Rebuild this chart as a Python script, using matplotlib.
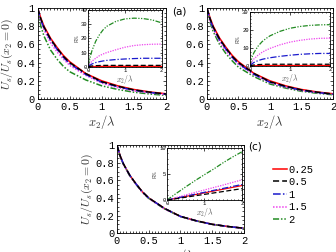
import matplotlib
matplotlib.use("Agg")
import matplotlib.pyplot as plt
from matplotlib.ticker import MultipleLocator

plt.rcParams['mathtext.fontset'] = 'cm'
plt.rcParams['font.family'] = ['Liberation Mono', 'DejaVu Sans Mono']

# curve values
x = [0, 0.05, 0.1, 0.2, 0.3, 0.4, 0.5, 0.75, 1.0, 1.25, 1.5, 1.75, 2.0]
labels = ['0.25', '0.5', '1', '1.5', '2']

# panel (a): U_s/U_s(x2=0)
a_main = {
    '0.25': [1.0, 0.89, 0.80, 0.67, 0.57, 0.48, 0.41, 0.28, 0.20, 0.145, 0.105, 0.078, 0.058],
    '0.5':  [1.0, 0.88, 0.79, 0.66, 0.56, 0.47, 0.40, 0.28, 0.19, 0.14, 0.10, 0.075, 0.055],
    '1':    [1.0, 0.87, 0.78, 0.65, 0.55, 0.46, 0.39, 0.27, 0.185, 0.135, 0.097, 0.072, 0.053],
    '1.5':  [1.0, 0.85, 0.76, 0.62, 0.52, 0.44, 0.37, 0.26, 0.175, 0.125, 0.09, 0.067, 0.05],
    '2':    [1.0, 0.80, 0.69, 0.54, 0.44, 0.36, 0.30, 0.21, 0.145, 0.105, 0.075, 0.055, 0.04],
}
a_inset = {
    '0.25': [0, 0.1, 0.15, 0.2, 0.25, 0.3, 0.3, 0.3, 0.3, 0.3, 0.3, 0.3, 0.3],
    '0.5':  [0, 0.4, 0.6, 0.8, 0.9, 1.0, 1.0, 1.0, 1.0, 1.0, 1.0, 1.0, 1.0],
    '1':    [0, 1.2, 2.0, 3.0, 3.6, 4.1, 4.5, 5.1, 5.5, 5.8, 6.0, 6.0, 6.0],
    '1.5':  [0, 2.5, 4.0, 6.0, 7.8, 9.0, 10.0, 12.0, 13.8, 15.0, 15.6, 15.9, 16.0],
    '2':    [0, 7.0, 11.5, 18.0, 22.5, 26.0, 28.5, 32.0, 33.8, 34.3, 34.0, 33.0, 31.0],
}

# panel (b)
b_main = {
    '0.25': [1.0, 0.89, 0.80, 0.67, 0.57, 0.48, 0.41, 0.28, 0.20, 0.145, 0.105, 0.078, 0.058],
    '0.5':  [1.0, 0.88, 0.79, 0.66, 0.56, 0.47, 0.40, 0.28, 0.19, 0.14, 0.10, 0.075, 0.055],
    '1':    [1.0, 0.87, 0.78, 0.65, 0.55, 0.46, 0.39, 0.27, 0.185, 0.135, 0.097, 0.072, 0.053],
    '1.5':  [1.0, 0.86, 0.77, 0.63, 0.53, 0.45, 0.38, 0.265, 0.18, 0.13, 0.093, 0.07, 0.052],
    '2':    [1.0, 0.84, 0.74, 0.60, 0.50, 0.42, 0.35, 0.245, 0.165, 0.12, 0.085, 0.063, 0.047],
}
b_inset = {
    '0.25': [0, 0.1, 0.15, 0.2, 0.25, 0.3, 0.3, 0.3, 0.3, 0.3, 0.3, 0.3, 0.3],
    '0.5':  [0, 0.4, 0.6, 0.8, 0.9, 1.0, 1.0, 1.0, 1.0, 1.0, 1.0, 1.0, 1.0],
    '1':    [0, 1.2, 2.0, 3.0, 3.7, 4.2, 4.6, 5.4, 6.0, 6.5, 6.8, 7.0, 7.0],
    '1.5':  [0, 2.5, 4.0, 6.0, 7.6, 8.8, 9.8, 11.8, 13.3, 14.3, 15.0, 15.4, 15.5],
    '2':    [0, 5.0, 7.5, 11.0, 13.5, 15.3, 16.8, 19.3, 21.0, 22.0, 22.6, 22.9, 23.0],
}

# panel (c)
c_main = {
    '0.25': [1.0, 0.88, 0.79, 0.66, 0.56, 0.47, 0.40, 0.28, 0.19, 0.14, 0.10, 0.075, 0.055],
    '0.5':  [1.0, 0.88, 0.79, 0.66, 0.56, 0.47, 0.40, 0.28, 0.19, 0.14, 0.10, 0.075, 0.055],
    '1':    [1.0, 0.88, 0.79, 0.66, 0.56, 0.47, 0.40, 0.28, 0.19, 0.14, 0.10, 0.075, 0.055],
    '1.5':  [1.0, 0.875, 0.785, 0.655, 0.555, 0.465, 0.395, 0.275, 0.188, 0.138, 0.099, 0.074, 0.054],
    '2':    [1.0, 0.875, 0.785, 0.655, 0.555, 0.465, 0.395, 0.275, 0.188, 0.138, 0.099, 0.074, 0.054],
}
c_inset = {
    '0.25': [0, 0.07, 0.14, 0.28, 0.42, 0.56, 0.7, 1.05, 1.4, 1.75, 2.1, 2.45, 2.8],
    '0.5':  [0, 0.06, 0.11, 0.22, 0.33, 0.44, 0.55, 0.83, 1.1, 1.38, 1.65, 1.93, 2.2],
    '1':    [0, 0.08, 0.15, 0.3, 0.45, 0.6, 0.75, 1.13, 1.5, 1.88, 2.25, 2.63, 3.0],
    '1.5':  [0, 0.1, 0.2, 0.4, 0.6, 0.8, 1.0, 1.48, 1.95, 2.43, 2.9, 3.4, 3.9],
    '2':    [0, 0.27, 0.53, 1.05, 1.55, 2.05, 2.55, 3.75, 4.9, 6.0, 7.2, 8.3, 9.3],
}

colors = {'0.25': 'red', '0.5': 'black', '1': '#1a1acc', '1.5': '#ee44ee', '2': '#228b22'}
styles = {'0.25': '-', '0.5': (0, (4, 2)), '1': (0, (5, 1.5, 1, 1.5)),
          '1.5': (0, (1, 1)), '2': (0, (4, 1.2, 1, 1.2, 1, 1.2))}
# red underneath, black on top (as in the original)
order = ['0.25', '2', '1.5', '1', '0.5']

fig = plt.figure(figsize=(3.36, 2.52), dpi=100)


def style_axes(ax, fs, xmin=0.1, ymin=None):
    ax.tick_params(which='both', direction='in', top=True, right=True,
                   labelsize=fs, width=0.5, pad=2)
    ax.tick_params(which='major', length=2.5)
    ax.tick_params(which='minor', length=1.2)
    for s in ax.spines.values():
        s.set_linewidth(0.6)
    ax.xaxis.set_minor_locator(MultipleLocator(xmin))
    if ymin is not None:
        ax.yaxis.set_minor_locator(MultipleLocator(ymin))


def main_panel(rect, data, ylabel=True):
    ax = fig.add_axes(rect)
    for k in order:
        ax.plot(x, data[k], color=colors[k], linestyle=styles[k], lw=1.1)
    ax.set_xlim(0, 2)
    ax.set_ylim(0, 1)
    ax.xaxis.set_major_locator(MultipleLocator(0.5))
    ax.yaxis.set_major_locator(MultipleLocator(0.2))
    style_axes(ax, 7.5, 0.05, 0.05)
    ax.xaxis.set_major_formatter(plt.FuncFormatter(lambda v, p: '%g' % v))
    ax.yaxis.set_major_formatter(plt.FuncFormatter(lambda v, p: '%g' % v))
    ax.set_xlabel(r'$x_2/\lambda$', fontsize=9, labelpad=1, color='#333333')
    if ylabel:
        ax.set_ylabel(r'$U_s/U_s(x_2=0)$', fontsize=8.5, labelpad=0.5, color='#333333')
    return ax


def inset(rect, data, ytop, ystep):
    ax = fig.add_axes(rect)
    for k in order:
        ax.plot(x, data[k], color=colors[k], linestyle=styles[k], lw=0.9)
    ax.set_xlim(0, 2)
    ax.set_ylim(0, ytop)
    ax.xaxis.set_major_locator(MultipleLocator(1))
    ax.yaxis.set_major_locator(MultipleLocator(ystep))
    style_axes(ax, 4, 0.1, ystep / 5)
    ax.tick_params(which='major', length=1.8, pad=1)
    ax.tick_params(which='minor', length=0.9)
    ax.set_xlabel(r'$x_2/\lambda$', fontsize=5.5, labelpad=0, color='#555555')
    ax.set_ylabel('R%', fontsize=4.5, labelpad=1, color='#555555')
    return ax


main_panel([0.112, 0.607, 0.382, 0.361], a_main)
inset([0.263, 0.735, 0.218, 0.225], a_inset, 40, 10)
fig.text(0.512, 0.955, '(a)', fontsize=7.5, family='DejaVu Sans', va='center')

main_panel([0.616, 0.607, 0.375, 0.361], b_main, ylabel=False)
inset([0.744, 0.738, 0.238, 0.214], b_inset, 30, 10)

axc = main_panel([0.348, 0.075, 0.378, 0.349], c_main)
inset([0.497, 0.206, 0.223, 0.206], c_inset, 10, 5)
fig.text(0.738, 0.418, '(c)', fontsize=7.5, family='DejaVu Sans', va='center')

handles = []
for k in labels:
    h, = axc.plot([], [], color=colors[k], linestyle=styles[k], lw=1.1)
    handles.append(h)
fig.legend(handles, labels, loc='upper left', bbox_to_anchor=(0.795, 0.372),
           frameon=False, fontsize=7.5, handlelength=1.3, handletextpad=0.1,
           labelspacing=0.25, borderpad=0.1)

fig.savefig('out.png', dpi=100)
